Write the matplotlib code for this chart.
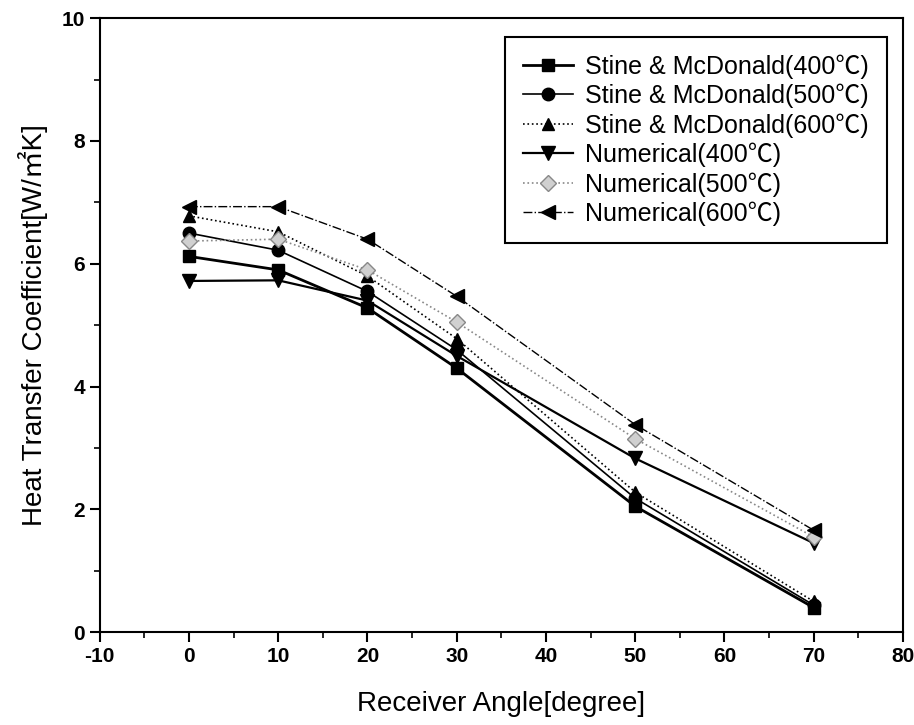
import matplotlib
matplotlib.use("Agg")
from matplotlib import pyplot as plt
from matplotlib.ticker import MultipleLocator

plt.rcParams['font.family'] = ['Liberation Sans', 'Noto Sans CJK KR', 'DejaVu Sans']
plt.rcParams['axes.unicode_minus'] = False

angles = [0, 10, 20, 30, 50, 70]

stine_400 = [6.12, 5.90, 5.28, 4.30, 2.05, 0.40]
stine_500 = [6.50, 6.22, 5.55, 4.60, 2.18, 0.44]
stine_600 = [6.78, 6.52, 5.80, 4.78, 2.28, 0.50]
num_400 = [5.72, 5.73, 5.40, 4.50, 2.83, 1.45]
num_500 = [6.37, 6.40, 5.90, 5.05, 3.15, 1.55]
num_600 = [6.93, 6.93, 6.40, 5.47, 3.38, 1.66]

labels = [
    'Stine & McDonald(400\u2103)',
    'Stine & McDonald(500\u2103)',
    'Stine & McDonald(600\u2103)',
    'Numerical(400\u2103)',
    'Numerical(500\u2103)',
    'Numerical(600\u2103)',
]


def main():
    fig = plt.figure(figsize=(9.14, 7.25), dpi=100)
    ax = fig.add_axes([0.109, 0.128, 0.879, 0.847])

    ax.plot(angles, stine_400, '-', color='black', lw=2.0, marker='s', ms=9, label=labels[0])
    ax.plot(angles, stine_500, '-', color='black', lw=1.2, marker='o', ms=9, label=labels[1])
    ax.plot(angles, stine_600, ':', color='black', lw=1.2, marker='^', ms=9, label=labels[2])
    ax.plot(angles, num_400, '-', color='black', lw=1.6, marker='v', ms=10, label=labels[3])
    ax.plot(angles, num_500, ':', color='#888888', lw=1.2, marker='D', ms=8,
            mfc='#d0d0d0', mec='#888888', label=labels[4])
    ax.plot(angles, num_600, '-.', color='black', lw=1.0, marker='<', ms=10, label=labels[5])

    ax.set_xlim(-10, 80)
    ax.set_ylim(0, 10)
    ax.xaxis.set_major_locator(MultipleLocator(10))
    ax.xaxis.set_minor_locator(MultipleLocator(5))
    ax.yaxis.set_major_locator(MultipleLocator(2))
    ax.yaxis.set_minor_locator(MultipleLocator(1))
    ax.tick_params(which='major', direction='out', length=7, width=1.5, labelsize=15)
    ax.tick_params(which='minor', direction='out', length=4, width=1.2)
    for lab in ax.get_xticklabels() + ax.get_yticklabels():
        lab.set_fontweight('bold')
    for sp in ax.spines.values():
        sp.set_linewidth(1.5)

    ax.set_xlabel('Receiver Angle[degree]', fontsize=20, labelpad=18)
    ax.set_ylabel('Heat Transfer Coefficient[W/\u33a1K]', fontsize=20, labelpad=10)

    leg = ax.legend(loc='upper right', fontsize=18, fancybox=False, edgecolor='black',
                    framealpha=1, handlelength=2.0, handletextpad=0.5, borderpad=0.7,
                    labelspacing=0.2, bbox_to_anchor=(0.995, 0.99))
    leg.get_frame().set_linewidth(1.5)

    fig.savefig('out.png', dpi=100)


if __name__ == "__main__":
    main()
